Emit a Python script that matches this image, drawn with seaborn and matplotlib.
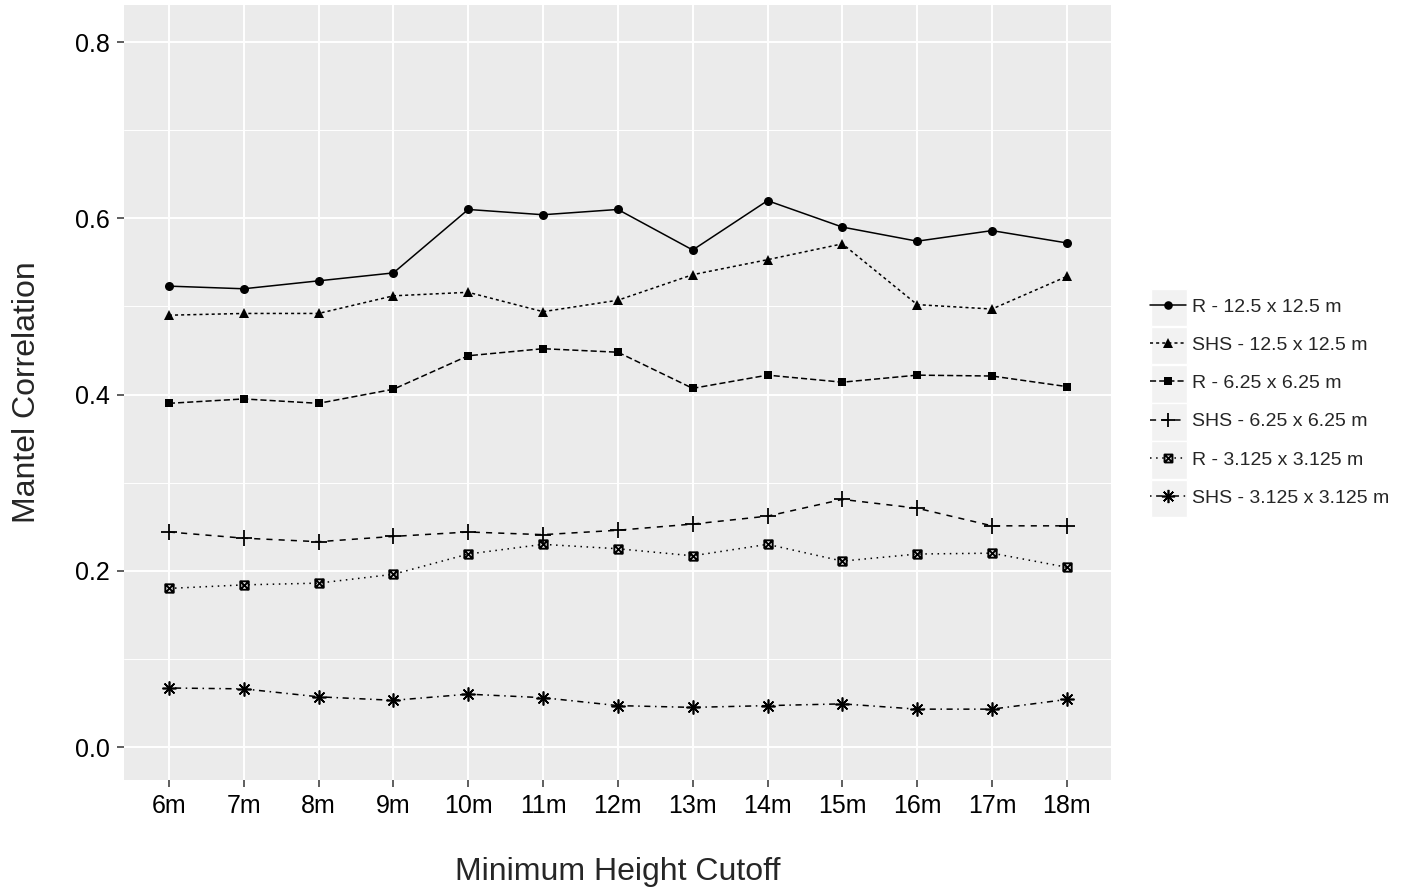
import numpy as np
import pandas as pd
import matplotlib
matplotlib.use("Agg")
import matplotlib.pyplot as plt
import seaborn as sns
from matplotlib.patches import Rectangle
from matplotlib.path import Path

heights = [6, 7, 8, 9, 10, 11, 12, 13, 14, 15, 16, 17, 18]
height_labels = [f"{h}m" for h in heights]

series_names = ["R - 12.5 x 12.5 m", "SHS - 12.5 x 12.5 m",
                "R - 6.25 x 6.25 m", "SHS - 6.25 x 6.25 m",
                "R - 3.125 x 3.125 m", "SHS - 3.125 x 3.125 m"]

r_125 = [0.523, 0.520, 0.529, 0.538, 0.610, 0.604, 0.610, 0.564, 0.620, 0.590, 0.574, 0.586, 0.572]
shs_125 = [0.490, 0.492, 0.492, 0.512, 0.516, 0.494, 0.507, 0.536, 0.553, 0.571, 0.502, 0.497, 0.534]
r_625 = [0.390, 0.395, 0.390, 0.406, 0.444, 0.452, 0.448, 0.407, 0.422, 0.414, 0.422, 0.421, 0.409]
shs_625 = [0.244, 0.237, 0.233, 0.239, 0.244, 0.241, 0.246, 0.253, 0.262, 0.281, 0.271, 0.251, 0.251]
r_3125 = [0.180, 0.184, 0.186, 0.196, 0.219, 0.230, 0.225, 0.217, 0.230, 0.211, 0.219, 0.220, 0.204]
shs_3125 = [0.067, 0.066, 0.057, 0.053, 0.060, 0.056, 0.047, 0.045, 0.047, 0.049, 0.043, 0.043, 0.054]

values = [r_125, shs_125, r_625, shs_625, r_3125, shs_3125]
df = pd.DataFrame({
    "height": heights * len(series_names),
    "corr": np.concatenate(values),
    "series": np.repeat(series_names, len(heights)),
})

# square with a cross (ggplot shape 7)
box_x = Path([(-1, -1), (1, -1), (1, 1), (-1, 1), (-1, -1), (-1, -1), (1, 1), (-1, 1), (1, -1)],
             [Path.MOVETO, Path.LINETO, Path.LINETO, Path.LINETO, Path.LINETO,
              Path.MOVETO, Path.LINETO, Path.MOVETO, Path.LINETO])

markers = ["o", "^", "s", "+", box_x, (8, 2, 0)]
dashes = [None, (2, 2), (4, 2), (4, 4), (1, 3), (1, 3, 4, 3)]
msizes = [6.5, 7, 6, 11, 6, 10]
mews = [0, 0, 0, 1.3, 1.4, 1.2]
fills = ["black", "black", "black", "black", "none", "black"]

sns.set_style("white")
plt.rcParams["font.family"] = ["Liberation Sans", "DejaVu Sans"]

fig = plt.figure(figsize=(14.11, 8.92), dpi=100)
ax = fig.add_axes([124 / 1411, 112 / 892, 987 / 1411, 775 / 892])
ax.set_facecolor("#EBEBEB")

for name, mk, ds, ms, mew, fc in zip(series_names, markers, dashes, msizes, mews, fills):
    kw = {} if ds is None else {"dashes": ds}
    sns.lineplot(data=df[df["series"] == name], x="height", y="corr",
                 color="black", linewidth=1.1, marker=mk, markersize=ms,
                 markeredgewidth=mew, markeredgecolor="black", markerfacecolor=fc,
                 label=name, ax=ax, zorder=3, **kw)

ax.set_xlim(heights[0] - 0.6, heights[-1] + 0.59)
ax.set_ylim(-0.0374, 0.842)
ax.set_xticks(heights)
ax.set_xticklabels(height_labels)
ax.set_yticks([0.0, 0.2, 0.4, 0.6, 0.8])
ax.set_yticklabels(["0.0", "0.2", "0.4", "0.6", "0.8"])
ax.set_yticks([0.1, 0.3, 0.5, 0.7], minor=True)

ax.grid(which="major", color="white", linewidth=1.4, zorder=0)
ax.grid(which="minor", axis="y", color="white", linewidth=0.7, zorder=0)
ax.set_axisbelow(True)
for s in ax.spines.values():
    s.set_visible(False)
ax.tick_params(which="major", length=5, width=1.1, color="#333333",
               labelsize=18, labelcolor="black", pad=5, direction="out",
               bottom=True, left=True)
ax.tick_params(which="minor", length=0)

ax.set_xlabel("Minimum Height Cutoff", fontsize=23, labelpad=28)
ax.set_ylabel("Mantel Correlation", fontsize=23, labelpad=24)

leg = ax.legend(loc="center left", bbox_to_anchor=(1.032, 0.487), frameon=False,
                fontsize=14, handlelength=1.85, handletextpad=0.3,
                labelspacing=1.06, borderaxespad=0)
for h, ms in zip(leg.legend_handles, msizes):
    h.set_markersize(ms * 0.95)

fig.canvas.draw()
renderer = fig.canvas.get_renderer()
for t in leg.get_texts():
    bb = t.get_window_extent(renderer)
    yc = (bb.y0 + bb.y1) / 2
    fig.patches.append(Rectangle((1151 / 1411, (yc - 18.8) / 892), 36 / 1411, 37.6 / 892,
                                 transform=fig.transFigure, facecolor="#F2F2F2",
                                 edgecolor="white", linewidth=1, zorder=-1))

fig.savefig("out.png", dpi=100)
